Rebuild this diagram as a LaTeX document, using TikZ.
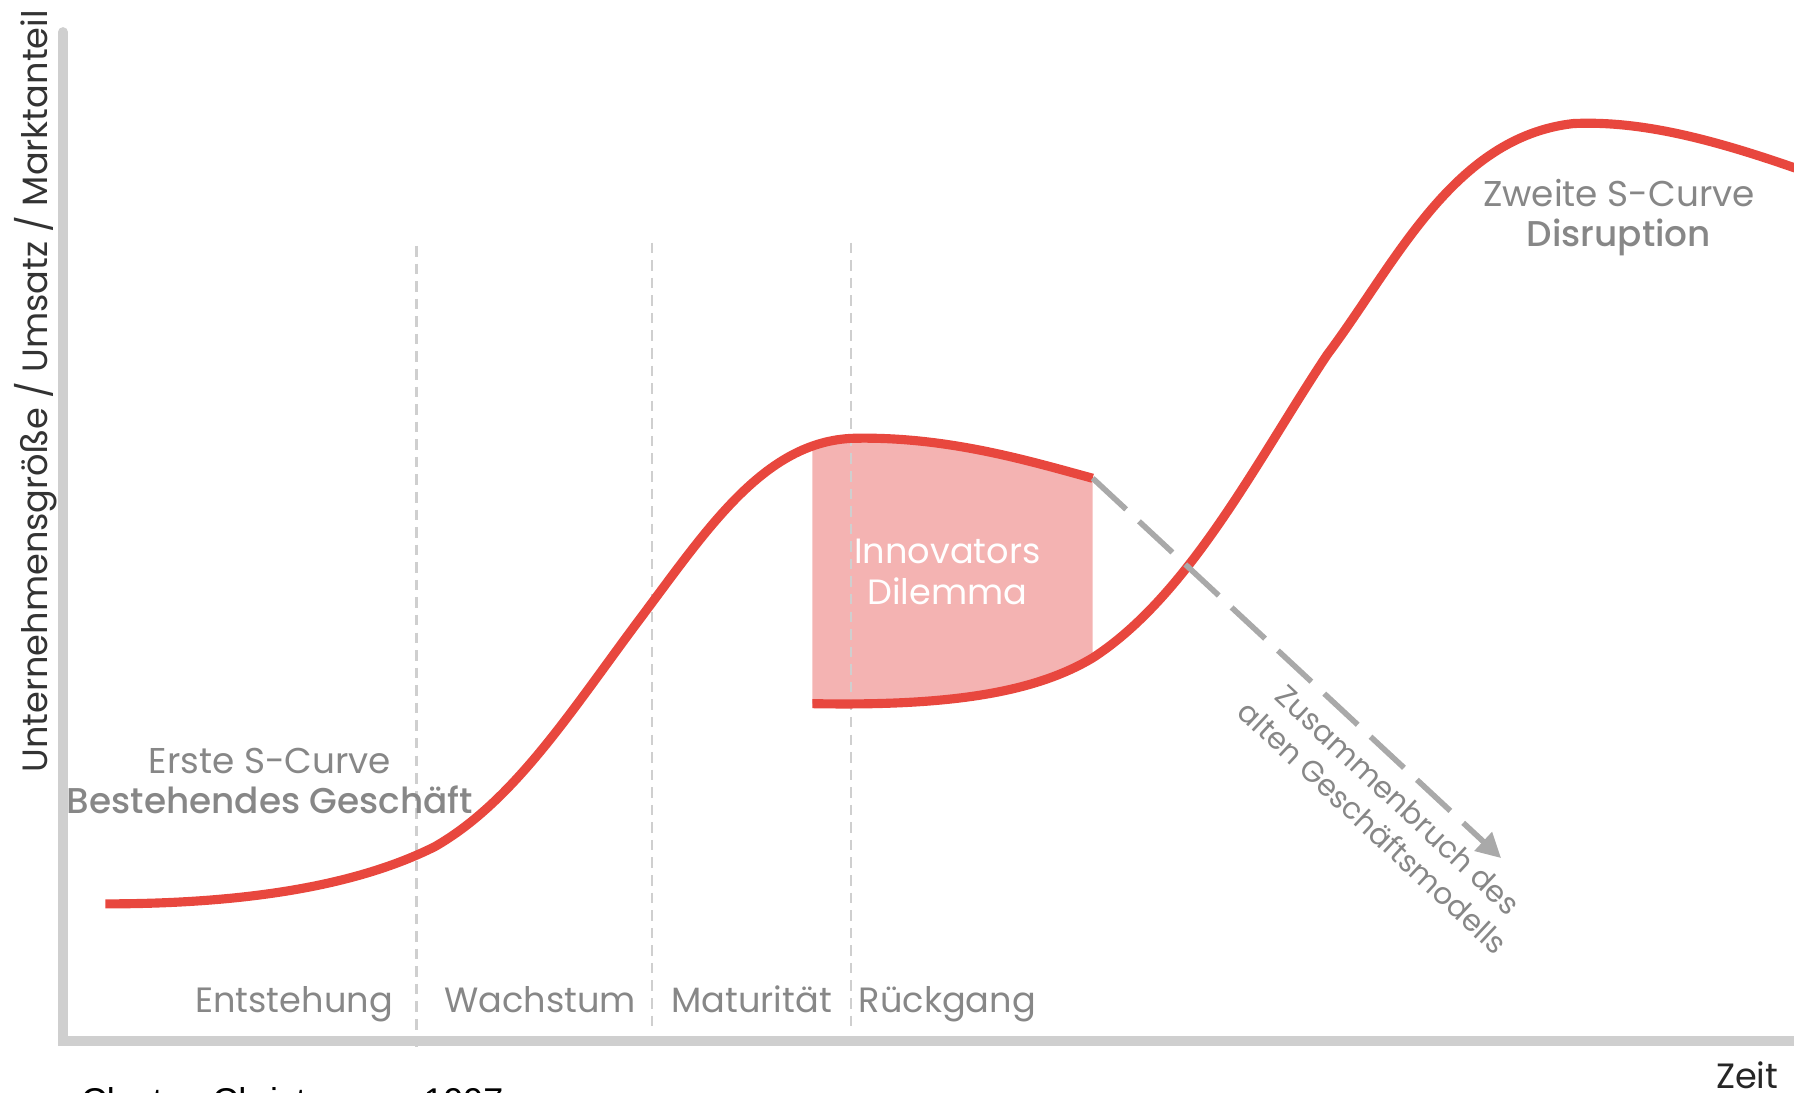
\documentclass[tikz,border=0pt]{standalone}
\usepackage{fontspec}
\setmainfont{Poppins}[BoldFont={Poppins Medium}]
\newfontfamily\srcfont{Liberation Sans}
\usetikzlibrary{arrows.meta}

\definecolor{curvered}{HTML}{E8473E}
\definecolor{dilemmapink}{HTML}{F4B3B2}
\definecolor{axisgray}{HTML}{CFCFCF}
\definecolor{textgray}{HTML}{878787}
\definecolor{arrowgray}{HTML}{A9A9A9}

\begin{document}
\begin{tikzpicture}[
  x=0.01144cm, y=-0.01144cm,
  curve/.style={line width=2.6pt, curvered},
  phaseline/.style={axisgray, line width=0.6pt, dash pattern=on 3pt off 2pt},
  phase/.style={textgray, font=\fontsize{10}{12}\selectfont, anchor=base},
  curvetitle/.style={textgray, font=\fontsize{10.2}{11.4}\selectfont, align=center}
]
\useasboundingbox (0,0) rectangle (1568,955.3);

% Innovators dilemma area
\begin{scope}
\clip (710,0) rectangle (955,1000);
\fill[dilemmapink] (710,615) .. controls (820,617) and (900,608) .. (955,575)
  -- (955,418) .. controls (900,403) and (830,382) .. (750,383)
  .. controls (670,385) and (620,460) .. (560,540) -- cycle;
\end{scope}

% Axes
\draw[axisgray, line width=2.8pt, line cap=round, line join=miter] (55,28) -- (55,910) -- (1600,910);
\node[rotate=90, color=black!80, font=\fontsize{10}{12}\selectfont] (ylabel) at (31,342) {Unternehmensgröße / Umsatz / Marktanteil};
\node[color=black!85, font=\fontsize{10}{12}\selectfont] (xlabel) at (1527,940) {Zeit};

% Phases
\draw[phaseline] (364,215) -- (364,918);
\draw[phaseline] (570,212) -- (570,900);
\draw[phaseline] (744,212) -- (744,900);
\node[phase] (ph1) at (257,885) {Entstehung};
\node[phase] (ph2) at (472,885) {Wachstum};
\node[phase] (ph3) at (657,885) {Maturität};
\node[phase] (ph4) at (828,885) {Rückgang};

% First S-curve
\coordinate (peakend) at (955,418);
\draw[curve] (92,790) .. controls (230,790) and (320,770) .. (380,740)
  .. controls (450,700) and (500,620) .. (560,540)
  .. controls (620,460) and (670,383) .. (750,383)
  .. controls (830,382) and (900,403) .. (peakend);

% Second S-curve
\draw[curve] (710,615) .. controls (820,617) and (900,608) .. (955,575)
  .. controls (1040,520) and (1100,400) .. (1160,310)
  .. controls (1220,230) and (1270,120) .. (1375,108)
  .. controls (1440,105) and (1510,125) .. (1600,158);

% Collapse of the old business
\coordinate (collapse) at (1312,750);
\draw[arrowgray, line width=1.6pt, dash pattern=on 13pt off 5pt, -{Triangle[length=7pt, width=7pt]}] (peakend) -- (collapse);
\node[rotate=-43, align=center, textgray, font=\fontsize{8.5}{10.6}\selectfont] (collapsetext) at (1211,711) {Zusammenbruch des\\alten Geschäftsmodells};

% Labels
\node[white, align=center, font=\fontsize{10}{11.7}\selectfont] (dilemma) at (828,500) {Innovators\\Dilemma};
\node[curvetitle] (first) at (236,683) {Erste S-Curve\\{\bfseries Bestehendes Geschäft}};
\node[curvetitle] (second) at (1415,190) {Zweite S-Curve\\{\bfseries Disruption}};

% Source
\node[anchor=base west, black, font=\srcfont\fontsize{10.2}{12}\selectfont] (source) at (60,973) {Clayton Christensen, 1997};
\end{tikzpicture}
\end{document}
